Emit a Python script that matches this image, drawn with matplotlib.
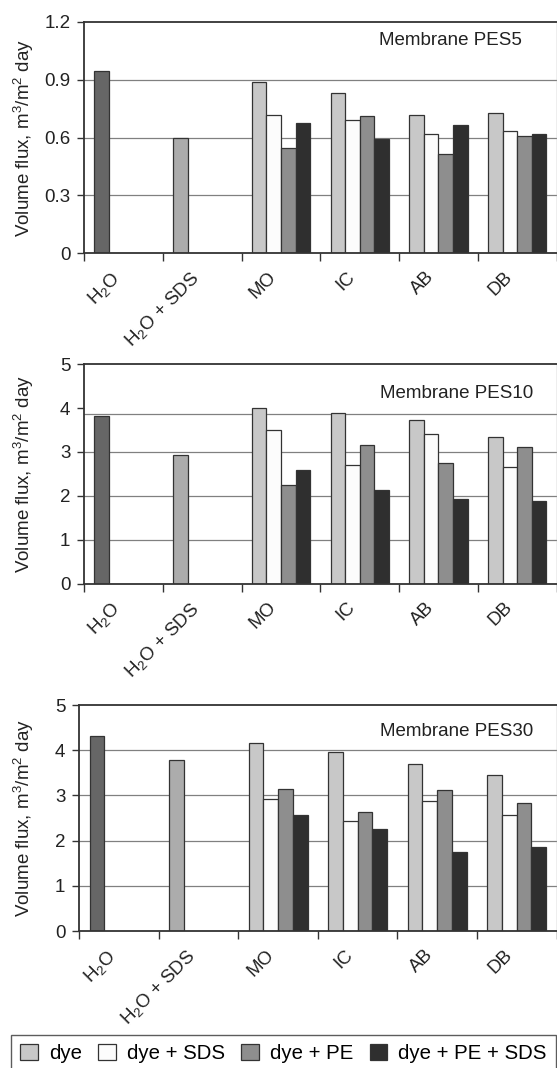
import numpy as np
import matplotlib
matplotlib.use('Agg')
import matplotlib.pyplot as plt
from matplotlib.patches import Patch
from matplotlib.transforms import ScaledTranslation

plt.rcParams['font.family'] = ['Liberation Sans', 'DejaVu Sans']
plt.rcParams['mathtext.fontset'] = 'custom'
plt.rcParams['mathtext.rm'] = 'Liberation Sans'
plt.rcParams['mathtext.default'] = 'regular'
FS = 13.5
plt.rcParams['font.size'] = FS

# categories on the x axis
categories = ['H$_2$O', 'H$_2$O + SDS', 'MO', 'IC', 'AB', 'DB']
series_names = ['dye', 'dye + SDS', 'dye + PE', 'dye + PE + SDS']

# PES5 membrane
pes5_water = 0.945
pes5_water_sds = 0.60
pes5_dye = [0.887, 0.83, 0.72, 0.727]
pes5_dye_sds = [0.72, 0.69, 0.617, 0.637]
pes5_dye_pe = [0.544, 0.71, 0.516, 0.609]
pes5_dye_pe_sds = [0.674, 0.592, 0.665, 0.617]

# PES10 membrane
pes10_water = 3.81
pes10_water_sds = 2.92
pes10_dye = [4.01, 3.89, 3.73, 3.35]
pes10_dye_sds = [3.49, 2.70, 3.40, 2.66]
pes10_dye_pe = [2.25, 3.15, 2.74, 3.11]
pes10_dye_pe_sds = [2.59, 2.14, 1.93, 1.89]

# PES30 membrane
pes30_water = 4.32
pes30_water_sds = 3.78
pes30_dye = [4.17, 3.97, 3.69, 3.46]
pes30_dye_sds = [2.91, 2.43, 2.88, 2.56]
pes30_dye_pe = [3.15, 2.63, 3.11, 2.83]
pes30_dye_pe_sds = [2.57, 2.25, 1.74, 1.86]

series_colors = ['#c8c8c8', '#fcfcfc', '#8e8e8e', '#2f2f2f']
water_color = '#666666'
water_sds_color = '#acacac'
edge = '#333333'

fig = plt.figure(figsize=(5.57, 10.68), dpi=100)
W, H = 557.0, 1068.0

def px_axes(left, top, right, bottom):
    return fig.add_axes([left / W, 1 - bottom / H, (right - left) / W, (bottom - top) / H])

panels = [
    dict(box=(84.2, 22, 556.5, 253.3), ymax=1.2, yticks=[0, 0.3, 0.6, 0.9, 1.2],
         ylabels=['0', '0.3', '0.6', '0.9', '1.2'], grid=[0.3, 0.6, 0.9],
         water=pes5_water, water_sds=pes5_water_sds,
         series=[pes5_dye, pes5_dye_sds, pes5_dye_pe, pes5_dye_pe_sds],
         title='Membrane PES5', tpos=(0.624, 0.92)),
    dict(box=(84.2, 364.3, 556.5, 583.5), ymax=5, yticks=[0, 1, 2, 3, 4, 5],
         ylabels=['0', '1', '2', '3', '4', '5'], grid=[1, 2, 3, 3.86],
         water=pes10_water, water_sds=pes10_water_sds,
         series=[pes10_dye, pes10_dye_sds, pes10_dye_pe, pes10_dye_pe_sds],
         title='Membrane PES10', tpos=(0.627, 0.868)),
    dict(box=(79.2, 705, 556.5, 931), ymax=5, yticks=[0, 1, 2, 3, 4, 5],
         ylabels=['0', '1', '2', '3', '4', '5'], grid=[1, 2, 3, 4],
         water=pes30_water, water_sds=pes30_water_sds,
         series=[pes30_dye, pes30_dye_sds, pes30_dye_pe, pes30_dye_pe_sds],
         title='Membrane PES30', tpos=(0.631, 0.882)),
]

bar_w = 0.185
offset = 0.13

for p in panels:
    ax = px_axes(*p['box'])
    ax.set_xlim(0, 6)
    ax.set_ylim(0, p['ymax'])

    # gridlines
    for g in p['grid']:
        ax.axhline(g, color='#808080', lw=0.9, zorder=0)

    # water bars in slot 0 of their own categories
    ax.bar(0 + offset, p['water'], width=bar_w, align='edge', color=water_color,
           edgecolor=edge, linewidth=0.9, zorder=2)
    ax.bar(1 + offset, p['water_sds'], width=bar_w, align='edge', color=water_sds_color,
           edgecolor=edge, linewidth=0.9, zorder=2)

    x = np.arange(2, 6)
    for j, vals in enumerate(p['series']):
        ax.bar(x + offset + j * bar_w, vals, width=bar_w, align='edge',
               color=series_colors[j], edgecolor=edge, linewidth=0.9, zorder=2)

    ax.set_yticks(p['yticks'])
    ax.set_yticklabels(p['ylabels'])
    ax.tick_params(axis='y', length=5, width=1, color='#333333', pad=5,
                   labelsize=FS, labelcolor='#222222')

    ax.set_xticks(np.arange(0, 7))
    ax.set_xticklabels([])
    ax.tick_params(axis='x', which='major', length=6, width=1, color='#333333')
    ax.set_xticks(np.arange(6) + 0.5, minor=True)
    ax.set_xticklabels(categories, minor=True, rotation=45, ha='right',
                       rotation_mode='anchor', fontsize=FS, color='#222222')
    ax.tick_params(axis='x', which='minor', length=0, pad=11)
    for lab in ax.get_xticklabels(minor=True):
        lab.set_transform(lab.get_transform() + ScaledTranslation(-0.13, 0, fig.dpi_scale_trans))

    for s in ['left', 'bottom', 'top']:
        ax.spines[s].set_color('#333333')
        ax.spines[s].set_linewidth(1.3)
    ax.spines['right'].set_color('#aaaaaa')
    ax.spines['right'].set_linewidth(1.0)

    ax.set_ylabel('Volume flux, m$^3$/m$^2$ day', fontsize=FS, color='#222222')
    left_px = p['box'][0]
    ax.yaxis.set_label_coords((36 - left_px) / (p['box'][2] - left_px), 0.5)

    ax.text(p['tpos'][0], p['tpos'][1], p['title'], transform=ax.transAxes,
            ha='left', va='center', fontsize=FS, color='#222222')

handles = [Patch(facecolor=c, edgecolor=edge, linewidth=0.9) for c in series_colors]
leg = fig.legend(handles, series_names, loc='upper left', ncol=4, mode='expand',
                 bbox_to_anchor=(11 / W, 1 - 1070 / H, 545 / W, 35 / H),
                 frameon=True, fancybox=False,
                 edgecolor='#333333', fontsize=14.7, handlelength=0.86, handleheight=0.78,
                 handletextpad=0.55, columnspacing=0.6, borderpad=0.45, borderaxespad=0)
leg.get_frame().set_linewidth(1.0)

fig.savefig('out.png', dpi=100)
